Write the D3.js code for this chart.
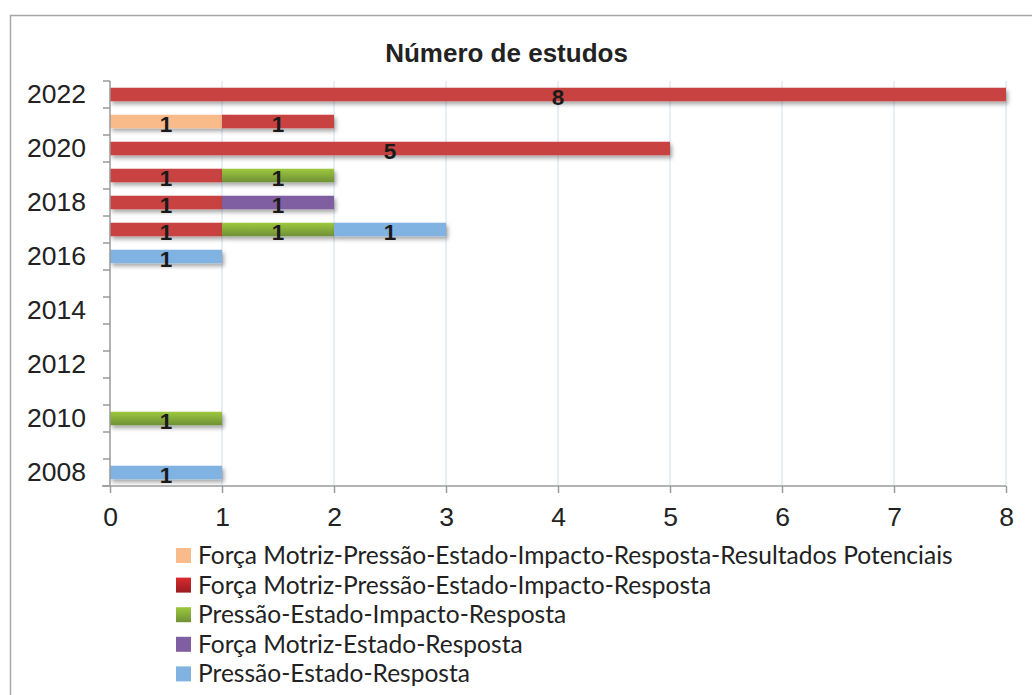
<!DOCTYPE html>
<html>
<head>
<meta charset="utf-8">
<script src="https://cdn.jsdelivr.net/npm/d3@7"></script>
<style>
html,body{margin:0;padding:0;background:#fff;}
svg{display:block;}
</style>
</head>
<body>
<svg id="chart" width="1032" height="695"></svg>
<script>
// ---- data ----
const years = [2022, 2021, 2020, 2019, 2018, 2017, 2016, 2015, 2014, 2013, 2012, 2011, 2010, 2009, 2008];
const yearLabels = ["2022", "2020", "2018", "2016", "2014", "2012", "2010", "2008"];
const seriesNames = [
  "Força Motriz-Pressão-Estado-Impacto-Resposta-Resultados Potenciais",
  "Força Motriz-Pressão-Estado-Impacto-Resposta",
  "Pressão-Estado-Impacto-Resposta",
  "Força Motriz-Estado-Resposta",
  "Pressão-Estado-Resposta"
];
const fmpeirrp = [0, 1, 0, 0, 0, 0, 0, 0, 0, 0, 0, 0, 0, 0, 0];
const fmpeir   = [8, 1, 5, 1, 1, 1, 0, 0, 0, 0, 0, 0, 0, 0, 0];
const peir     = [0, 0, 0, 1, 0, 1, 0, 0, 0, 0, 0, 0, 1, 0, 0];
const fmer     = [0, 0, 0, 0, 1, 0, 0, 0, 0, 0, 0, 0, 0, 0, 0];
const per      = [0, 0, 0, 0, 0, 1, 1, 0, 0, 0, 0, 0, 0, 0, 1];
const xTicks = [0, 1, 2, 3, 4, 5, 6, 7, 8];
const title = "Número de estudos";

const seriesValues = [fmpeirrp, fmpeir, peir, fmer, per];
const colors = ["#F9BB8A", "#C7423F", "url(#gGreen)", "#7F5FA1", "#80B3E2"];
const legendColors = ["#F9BB8A", "url(#gRed)", "url(#gGreen)", "#7F5FA1", "#80B3E2"];

const svg = d3.select("#chart");
const defs = svg.append("defs");
const gG = defs.append("linearGradient").attr("id", "gGreen").attr("x1", 0).attr("y1", 0).attr("x2", 0).attr("y2", 1);
gG.append("stop").attr("offset", "0%").attr("stop-color", "#9DC83C");
gG.append("stop").attr("offset", "100%").attr("stop-color", "#6F9038");
const gR = defs.append("linearGradient").attr("id", "gRed").attr("x1", 0).attr("y1", 0).attr("x2", 0).attr("y2", 1);
gR.append("stop").attr("offset", "0%").attr("stop-color", "#DA2A2E");
gR.append("stop").attr("offset", "100%").attr("stop-color", "#9A1C1F");
const f = defs.append("filter").attr("id", "shadow").attr("x", "-5%").attr("y", "-50%").attr("width", "110%").attr("height", "220%");
f.append("feDropShadow").attr("dx", 2).attr("dy", 3).attr("stdDeviation", 2).attr("flood-color", "#000").attr("flood-opacity", 0.35);

// outer border
svg.append("rect").attr("x", 10.5).attr("y", 15.5).attr("width", 1100).attr("height", 800)
  .attr("fill", "none").attr("stroke", "#A6A6A6").attr("stroke-width", 1.5);

const x = d3.scaleLinear().domain([0, 8]).range([110, 1006]);
const y = d3.scaleBand().domain(years).range([81, 486]).paddingInner(0.5).paddingOuter(0.25);
const yIdx = d3.scaleLinear().domain([0, years.length]).range([81, 486]);

// gridlines
svg.append("g").selectAll("line").data(xTicks.filter(d => d > 0)).join("line")
  .attr("x1", d => x(d)).attr("x2", d => x(d)).attr("y1", 81).attr("y2", 486)
  .attr("stroke", "#DFE8F3").attr("stroke-width", 1.5);

// stacked data
const rows = years.map((yr, i) => {
  const o = { year: yr };
  seriesValues.forEach((s, k) => o["s" + k] = s[i]);
  return o;
});
const stack = d3.stack().keys(seriesValues.map((s, k) => "s" + k))(rows);

const barsG = svg.append("g");
stack.forEach((layer, k) => {
  barsG.append("g").attr("filter", "url(#shadow)")
    .selectAll("rect").data(layer.filter(d => d[1] - d[0] > 0)).join("rect")
    .attr("x", d => x(d[0])).attr("width", d => x(d[1]) - x(d[0]))
    .attr("y", d => y(d.data.year)).attr("height", y.bandwidth())
    .attr("fill", colors[k]);
});
// labels
stack.forEach((layer, k) => {
  svg.append("g").selectAll("text").data(layer.filter(d => d[1] - d[0] > 0)).join("text")
    .attr("x", d => x((d[0] + d[1]) / 2))
    .attr("y", d => y(d.data.year) + y.bandwidth() / 2 + 10)
    .attr("text-anchor", "middle")
    .attr("font-family", "Liberation Sans, Arial, sans-serif")
    .attr("font-weight", "bold").attr("font-size", 22.5).attr("fill", "#1A1A1A")
    .text(d => d[1] - d[0]);
});

// y axis
const axisColor = "#9A9A9A";
svg.append("line").attr("x1", 110).attr("x2", 110).attr("y1", 81).attr("y2", 486)
  .attr("stroke", axisColor).attr("stroke-width", 1.5);
svg.append("g").selectAll("line").data(d3.range(years.length + 1)).join("line")
  .attr("x1", 103).attr("x2", 110).attr("y1", d => yIdx(d)).attr("y2", d => yIdx(d))
  .attr("stroke", axisColor).attr("stroke-width", 1.5);
svg.append("g").selectAll("text").data(yearLabels).join("text")
  .attr("x", 86).attr("y", d => y(+d) + y.bandwidth() / 2 + 8)
  .attr("text-anchor", "end")
  .attr("font-family", "Liberation Sans, Arial, sans-serif")
  .attr("font-size", 26.5).attr("fill", "#222")
  .text(d => d);

// x axis
const xAxis = d3.axisBottom(x).tickValues(xTicks).tickSize(7).tickFormat(d3.format("d"));
const xg = svg.append("g").attr("transform", "translate(0,486)").call(xAxis);
xg.select(".domain").remove();
xg.selectAll(".tick line").attr("stroke", axisColor).attr("stroke-width", 1.5);
xg.selectAll(".tick text").attr("font-family", "Liberation Sans, Arial, sans-serif")
  .attr("font-size", 26.5).attr("fill", "#222").attr("dy", 0).attr("y", 40);
svg.append("line").attr("x1", 102).attr("x2", 1006).attr("y1", 486).attr("y2", 486)
  .attr("stroke", axisColor).attr("stroke-width", 1.5);

// title
svg.append("text").attr("x", 506.5).attr("y", 62).attr("text-anchor", "middle")
  .attr("font-family", "Liberation Sans, Arial, sans-serif")
  .attr("font-weight", "bold").attr("font-size", 26).attr("fill", "#222")
  .text(title);

// legend
const legend = svg.append("g");
const lg = legend.selectAll("g").data(seriesNames).join("g")
  .attr("transform", (d, i) => `translate(176,${555.5 + i * 29.6})`);
lg.append("rect").attr("x", 0).attr("y", -7.5).attr("width", 15).attr("height", 15)
  .attr("fill", (d, i) => legendColors[i]);
const lt = lg.append("text").attr("x", 22).attr("y", 0).attr("dy", "0.35em")
  .attr("font-family", "Lato, 'Open Sans', sans-serif").attr("font-size", 24).attr("fill", "#222")
  .text(d => d);
const w0 = lt.node().getComputedTextLength();
const fs = 24 * 755 / w0;
lt.attr("font-size", fs);
</script>
</body>
</html>
